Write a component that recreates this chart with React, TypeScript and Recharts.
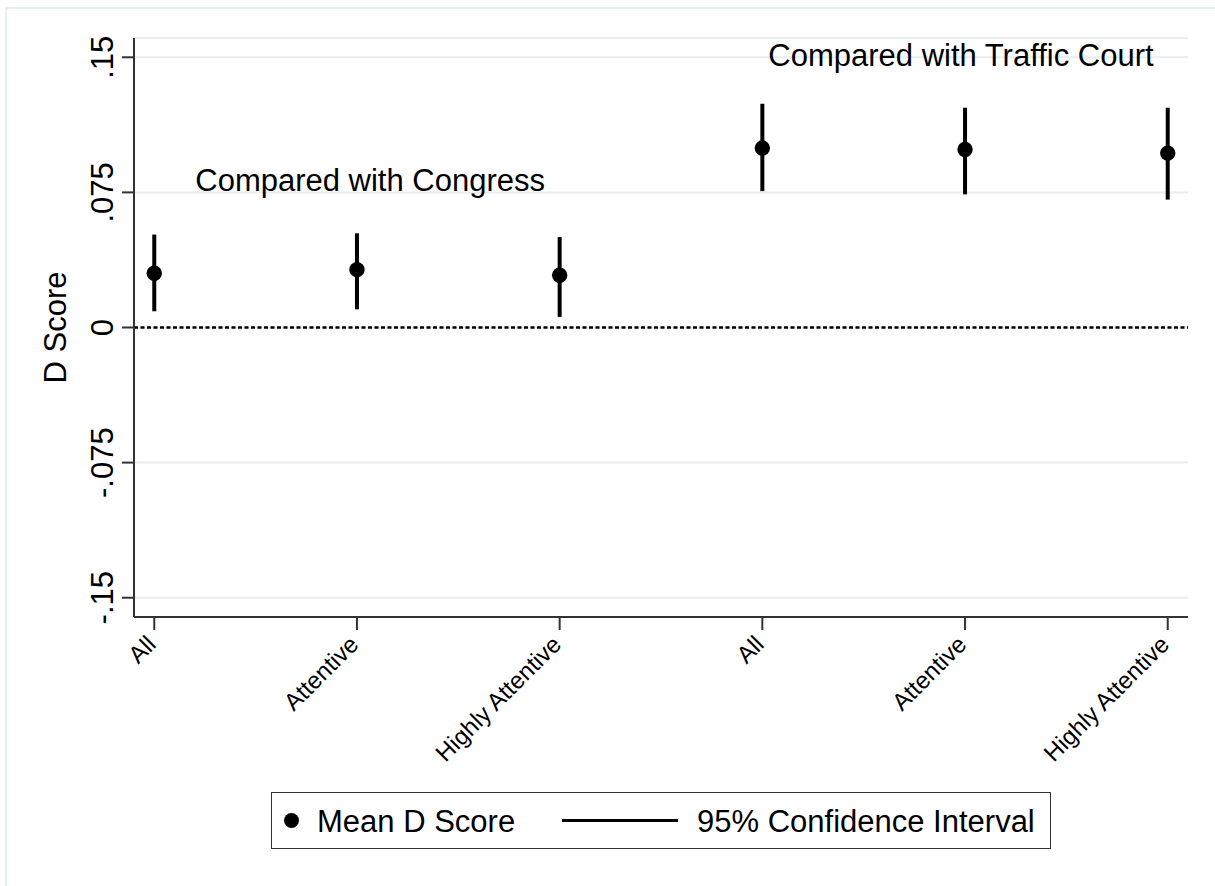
import React from 'react';
import {
  ComposedChart,
  Scatter,
  ErrorBar,
  XAxis,
  YAxis,
  CartesianGrid,
  ReferenceLine,
  ReferenceDot,
  Legend,
} from 'recharts';

// Mean D score with 95% CI, Congress vs Traffic Court comparisons
const categories = ['All', 'Attentive', 'Highly Attentive', 'All', 'Attentive', 'Highly Attentive'];
const meanScores = [0.0301, 0.0321, 0.029, 0.0996, 0.0988, 0.0968];
const ciLower = [0.009, 0.0101, 0.0059, 0.0757, 0.0739, 0.071];
const ciUpper = [0.0516, 0.0523, 0.0502, 0.1242, 0.122, 0.122];

const yTicks = [-0.15, -0.075, 0, 0.075, 0.15];
const yTickLabels = ['-.15', '-.075', '0', '.075', '.15'];

const FONT = '"Liberation Sans", Arial, Helvetica, sans-serif';
const AXIS = '#333';
const GRID = '#e6eef1';

const data = categories.map((name, i) => ({
  pos: i,
  name,
  mean: meanScores[i],
  ci: [meanScores[i] - ciLower[i], ciUpper[i] - meanScores[i]],
}));

const YTick = (props: any) => {
  const { x, y, payload } = props;
  const idx = yTicks.indexOf(payload.value);
  return (
    <text
      x={x}
      y={y}
      transform={`rotate(-90, ${x}, ${y})`}
      textAnchor="middle"
      fontFamily={FONT}
      fontSize={31}
      fill="#000"
    >
      {idx >= 0 ? yTickLabels[idx] : payload.value}
    </text>
  );
};

const XTick = (props: any) => {
  const { x, y, payload } = props;
  const px = x - 3;
  return (
    <text
      x={px}
      y={y}
      dy="0.35em"
      transform={`rotate(-45, ${px}, ${y})`}
      textAnchor="end"
      fontFamily={FONT}
      fontSize={24}
      fill="#000"
    >
      {categories[payload.value]}
    </text>
  );
};

const Dot = (props: any) => <circle cx={props.cx} cy={props.cy} r={7.7} fill="#000" />;

const annotation = (text: string) => (p: any) => (
  <text
    x={p.cx}
    y={p.cy}
    dy="0.35em"
    textAnchor="middle"
    fontFamily={FONT}
    fontSize={31}
    fill="#000"
  >
    {text}
  </text>
);

const LegendBox = () => (
  <div
    style={{
      position: 'relative',
      height: 57,
      boxSizing: 'border-box',
      border: `1.5px solid ${AXIS}`,
      background: '#fff',
      fontFamily: FONT,
      fontSize: 31,
      lineHeight: 1,
      color: '#000',
    }}
  >
    <span
      style={{
        position: 'absolute',
        left: 12,
        top: 20,
        width: 15.4,
        height: 15.4,
        borderRadius: '50%',
        background: '#000',
      }}
    />
    <span style={{ position: 'absolute', left: 45, top: 13, whiteSpace: 'nowrap' }}>Mean D Score</span>
    <span
      style={{ position: 'absolute', left: 290, top: 25.5, width: 116, height: 3, background: '#000' }}
    />
    <span style={{ position: 'absolute', left: 425, top: 13, whiteSpace: 'nowrap' }}>
      95% Confidence Interval
    </span>
  </div>
);

export default function App() {
  return (
    <div style={{ position: 'absolute', left: 0, top: 0, width: 1215, height: 886, background: '#fff' }}>
      <div
        style={{
          position: 'absolute',
          left: 5,
          top: 7,
          right: 0,
          bottom: 0,
          borderLeft: `2px solid ${GRID}`,
          borderTop: `2px solid ${GRID}`,
        }}
      />
      <ComposedChart
        width={1215}
        height={886}
        data={data}
        margin={{ top: 38, right: 27, left: 0, bottom: 37 }}
      >
        <CartesianGrid vertical={false} stroke={GRID} strokeWidth={2} />
        <XAxis
          type="number"
          dataKey="pos"
          domain={[-0.1, 5.1]}
          ticks={[0, 1, 2, 3, 4, 5]}
          height={175}
          tickSize={13}
          tickMargin={10}
          tick={<XTick />}
          interval={0}
          axisLine={{ stroke: AXIS, strokeWidth: 2 }}
          tickLine={{ stroke: AXIS, strokeWidth: 2 }}
        />
        <YAxis
          type="number"
          domain={[-0.1607, 0.1607]}
          ticks={yTicks}
          allowDataOverflow
          width={134}
          tickSize={12}
          tickMargin={9}
          tick={<YTick />}
          interval={0}
          axisLine={{ stroke: AXIS, strokeWidth: 2 }}
          tickLine={{ stroke: AXIS, strokeWidth: 2 }}
          label={{
            content: (p: any) => {
              const vb = p.viewBox || { x: 0, y: 38, height: 579 };
              const cx = vb.x + 66;
              const cy = vb.y + vb.height / 2;
              return (
                <text
                  x={cx}
                  y={cy}
                  transform={`rotate(-90, ${cx}, ${cy})`}
                  textAnchor="middle"
                  fontFamily={FONT}
                  fontSize={31}
                  fill="#000"
                >
                  D Score
                </text>
              );
            },
          }}
        />
        <ReferenceLine y={0} stroke="#000" strokeWidth={2.5} strokeDasharray="4 2.5" />
        <ReferenceDot x={1.065} y={0.082} r={0} shape={annotation('Compared with Congress')} />
        <ReferenceDot x={3.98} y={0.151} r={0} shape={annotation('Compared with Traffic Court')} />
        <Scatter dataKey="mean" shape={<Dot />} isAnimationActive={false}>
          <ErrorBar dataKey="ci" direction="y" width={0} stroke="#000" strokeWidth={4} isAnimationActive={false} />
        </Scatter>
        <Legend
          verticalAlign="bottom"
          wrapperStyle={{ left: 271, width: 780 }}
          content={() => <LegendBox />}
        />
      </ComposedChart>
    </div>
  );
}
